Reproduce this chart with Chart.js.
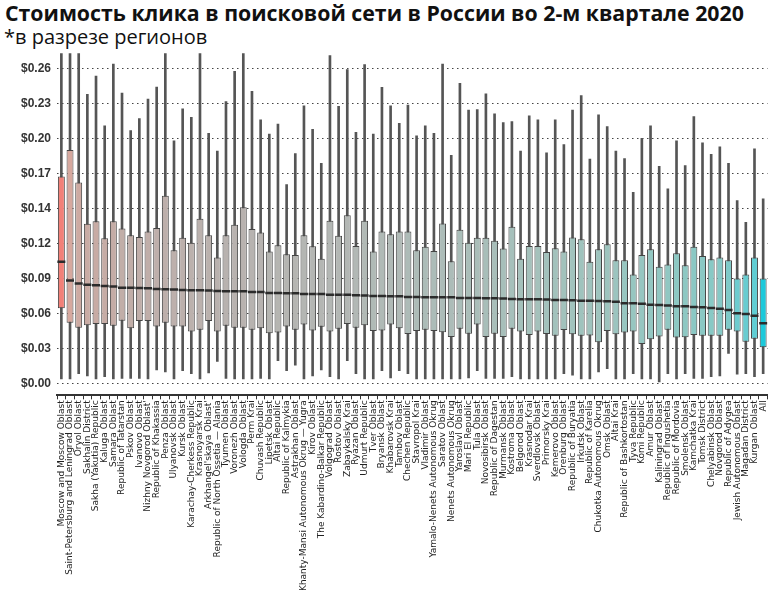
<!DOCTYPE html>
<html lang="ru">
  <head>
    <meta charset="UTF-8" />
    <title>Стоимость клика</title>
    <script src="https://cdn.jsdelivr.net/npm/chart.js"></script>
    <style>
      body {
        margin: 0;
        width: 775px;
        height: 600px;
        background: #fff;
        position: relative;
        overflow: hidden;
      }
      .title {
        position: absolute;
        left: 5px;
        top: -2px;
        font: 700 21.3px "Open Sans", sans-serif;
        color: #111;
        white-space: nowrap;
      }
      .subtitle {
        position: absolute;
        left: 4px;
        top: 23px;
        font: 400 20px "Open Sans", sans-serif;
        color: #111;
        white-space: nowrap;
      }
      #chart {
        position: absolute;
        left: 0;
        top: 40px;
      }
    </style>
  </head>
  <body>
    <div class="title">Стоимость клика в поисковой сети в России во 2-м квартале 2020</div>
    <div class="subtitle">*в разрезе регионов</div>
    <canvas id="chart" width="775" height="560"></canvas>
    <script>
      const categories = [
        "Moscow and Moscow Oblast", "Saint-Petersburg and Leningrad Oblast", "Oryol Oblast",
        "Sakhalin District", "Sakha (Yakutia) Republic", "Kaluga Oblast", "Samara Oblast",
        "Republic of Tatarstan", "Pskov Oblast", "Ivanovo Oblast", "Nizhny Novgorod Oblast'",
        "Republic of Khakassia", "Penza Oblast", "Ulyanovsk Oblast", "Kursk Oblast",
        "Karachay-Cherkess Republic", "Krasnoyarsk Krai", "Arkhangel'skaya Oblast'",
        "Republic of North Ossetia — Alania", "Tyumen Oblast", "Voronezh Oblast", "Vologda Oblast",
        "Perm Krai", "Chuvash Republic", "Lipetsk Oblast", "Altai Republic", "Republic of Kalmykia",
        "Astrakhan Oblast", "Khanty-Mansi Autonomous Okrug — Yugra", "Kirov Oblast",
        "The Kabardino-Balkar Republic", "Volgograd Oblast", "Rostov Oblast", "Zabaykalsky Krai",
        "Ryazan Oblast", "Udmurt Republic", "Tver Oblast", "Bryansk Oblast", "Khabarovsk Krai",
        "Tambov Oblast", "Chechen Republic", "Stavropol Krai", "Vladimir Oblast",
        "Yamalo-Nenets Autonomous Okrug", "Saratov Oblast", "Nenets Autonomous Okrug",
        "Yaroslavl Oblast", "Mari El Republic", "Tula Oblast", "Novosibirsk Oblast",
        "Republic of Dagestan", "Murmansk Oblast", "Kostroma Oblast", "Belgorod Oblast",
        "Krasnodar Krai", "Sverdlovsk Oblast", "Primorsky Krai", "Kemerovo Oblast",
        "Orenburg Oblast", "Republic of Buryatia", "Irkutsk Oblast", "Republic of Karelia",
        "Chukotka Autonomous Okrug", "Omsk Oblast", "Altai Krai", "Republic of Bashkortostan",
        "Tyva Republic", "Komi Republic", "Amur Oblast", "Kaliningrad Oblast",
        "Republic of Ingushetia", "Republic of Mordovia", "Smolensk Oblast", "Kamchatka Krai",
        "Tomsk District", "Chelyabinsk Oblast", "Novgorod Oblast", "Republic of Adygea",
        "Jewish Autonomous Oblast", "Magadan District", "Kurgan Oblast", "All"
      ];

      const q1 = [
        0.062, 0.05, 0.046, 0.048, 0.049, 0.049, 0.0475, 0.0517, 0.0455, 0.0514,
        0.0514, 0.047, 0.05, 0.047, 0.047, 0.0428, 0.0442, 0.0514, 0.0428, 0.0475,
        0.046, 0.046, 0.0442, 0.0455, 0.0414, 0.042, 0.047, 0.0442, 0.0486, 0.0436,
        0.0467, 0.0428, 0.045, 0.049, 0.046, 0.048, 0.0433, 0.0436, 0.0486, 0.0455,
        0.0408, 0.0433, 0.0442, 0.0433, 0.0422, 0.0383, 0.045, 0.041, 0.0486, 0.0383,
        0.041, 0.0383, 0.045, 0.0428, 0.04, 0.0428, 0.0408, 0.0392, 0.044, 0.0405,
        0.0392, 0.0394, 0.0339, 0.0433, 0.0405, 0.042, 0.0428, 0.0325, 0.0364, 0.0386,
        0.0442, 0.0378, 0.038, 0.04, 0.0392, 0.0392, 0.0392, 0.0442, 0.0428, 0.0344,
        0.0367, 0.0297
      ];
      const median = [
        0.1005, 0.085, 0.0825, 0.0815, 0.081, 0.0805, 0.08, 0.079, 0.079, 0.0788,
        0.0786, 0.078, 0.0778, 0.0775, 0.0772, 0.077, 0.077, 0.0767, 0.0764, 0.076,
        0.076, 0.076, 0.0755, 0.0755, 0.0747, 0.0747, 0.0744, 0.0744, 0.0739, 0.0739,
        0.0739, 0.0733, 0.0733, 0.0733, 0.0728, 0.0725, 0.0722, 0.0722, 0.0719, 0.0719,
        0.0714, 0.0714, 0.0711, 0.0711, 0.0711, 0.0711, 0.0706, 0.0706, 0.0706, 0.0703,
        0.0703, 0.07, 0.0697, 0.0694, 0.0694, 0.0694, 0.0692, 0.0689, 0.0689, 0.0686,
        0.0683, 0.0683, 0.068, 0.0678, 0.0675, 0.0661, 0.0661, 0.0658, 0.065, 0.0647,
        0.0644, 0.0636, 0.0636, 0.063, 0.0628, 0.0622, 0.0617, 0.0606, 0.0578, 0.0572,
        0.0558, 0.0497
      ];
      const q3 = [
        0.171, 0.193, 0.166, 0.132, 0.134, 0.12, 0.134, 0.128, 0.1225, 0.121,
        0.1255, 0.1285, 0.155, 0.11, 0.1203, 0.1163, 0.136, 0.1225, 0.104, 0.1225,
        0.131, 0.1455, 0.1275, 0.1247, 0.1089, 0.1142, 0.1067, 0.1061, 0.1225, 0.1133,
        0.103, 0.1344, 0.122, 0.139, 0.1136, 0.1344, 0.1089, 0.1255, 0.1233, 0.1255,
        0.1255, 0.11, 0.1128, 0.1094, 0.1322, 0.101, 0.127, 0.1163, 0.1203, 0.1203,
        0.1178, 0.1114, 0.1294, 0.103, 0.1136, 0.1136, 0.1086, 0.1117, 0.1089, 0.1206,
        0.1192, 0.1005, 0.1108, 0.115, 0.1017, 0.1017, 0.09, 0.1061, 0.1108, 0.0964,
        0.0983, 0.1075, 0.0975, 0.1128, 0.1053, 0.1025, 0.104, 0.1017, 0.0867, 0.09,
        0.104, 0.0867
      ];
      const whiskerLow = [
        0.0036, 0.0036, 0.008, 0.006, 0.0036, 0.0055, 0.0036, 0.004, 0.004, 0.004,
        0.0036, 0.011, 0.0094, 0.0036, 0.0105, 0.008, 0.0036, 0.0085, 0.018, 0.004,
        0.0036, 0.0036, 0.0036, 0.004, 0.0036, 0.0186, 0.0105, 0.015, 0.0036, 0.006,
        0.011, 0.0055, 0.0036, 0.0186, 0.008, 0.0036, 0.0036, 0.0105, 0.0044, 0.0105,
        0.008, 0.0036, 0.0036, 0.0036, 0.0036, 0.0036, 0.0036, 0.0044, 0.0105, 0.004,
        0.004, 0.004, 0.0055, 0.0036, 0.0036, 0.0036, 0.0036, 0.0036, 0.008, 0.0067,
        0.0036, 0.0036, 0.0094, 0.012, 0.0036, 0.0036, 0.008, 0.0036, 0.0036, 0.001,
        0.008, 0.0036, 0.008, 0.004, 0.004, 0.0055, 0.006, 0.0247, 0.0075, 0.008,
        0.0055, 0.008
      ];
      const whiskerHigh = [
        0.29, 0.29, 0.29, 0.239, 0.254, 0.213, 0.264, 0.24, 0.209, 0.219,
        0.235, 0.245, 0.29, 0.2005, 0.227, 0.22, 0.29, 0.2067, 0.192, 0.233,
        0.258, 0.29, 0.2414, 0.2178, 0.206, 0.2144, 0.1644, 0.19, 0.2294, 0.21,
        0.182, 0.271, 0.229, 0.2594, 0.2075, 0.2636, 0.206, 0.2447, 0.2294, 0.215,
        0.23, 0.2047, 0.213, 0.2067, 0.264, 0.1886, 0.248, 0.226, 0.2264, 0.2394,
        0.2228, 0.2156, 0.2164, 0.192, 0.2211, 0.2178, 0.1906, 0.2178, 0.1975, 0.226,
        0.238, 0.1855, 0.222, 0.2122, 0.192, 0.1858, 0.158, 0.2025, 0.213, 0.1794,
        0.1608, 0.2005, 0.18, 0.2206, 0.1989, 0.1894, 0.1956, 0.182, 0.151, 0.133,
        0.194, 0.1525
      ];

      const yTickStep = 0.26 / 9;
      const yTickLabels = ["$0.00", "$0.03", "$0.06", "$0.09", "$0.12", "$0.14", "$0.17", "$0.20", "$0.23", "$0.26"];

      // box colour follows the median: cyan for cheap, salmon for expensive
      const colorStops = [
        [0.0497, [28, 201, 218]],
        [0.056, [98, 205, 211]],
        [0.062, [135, 201, 197]],
        [0.068, [158, 196, 190]],
        [0.072, [176, 186, 182]],
        [0.076, [184, 178, 175]],
        [0.08, [196, 172, 166]],
        [0.085, [214, 168, 158]],
        [0.1005, [242, 128, 120]]
      ];
      function colorFor(m) {
        for (let i = 1; i < colorStops.length; i++) {
          const [v0, c0] = colorStops[i - 1];
          const [v1, c1] = colorStops[i];
          if (m <= v1 || i === colorStops.length - 1) {
            const t = Math.max(0, Math.min(1, (m - v0) / (v1 - v0)));
            const c = c0.map((x, k) => Math.round(x + (c1[k] - x) * t));
            return "rgb(" + c.join(",") + ")";
          }
        }
      }

      const boxColors = median.map(colorFor);

      new Chart(document.getElementById("chart"), {
        type: "bar",
        data: {
          labels: categories,
          datasets: [
            {
              type: "line",
              data: median,
              showLine: false,
              pointStyle: "line",
              pointRadius: 4,
              pointHoverRadius: 4,
              pointBorderColor: "#2b2b2b",
              pointBorderWidth: 2.5,
              order: 0,
            },
            {
              data: categories.map((c, i) => [q1[i], q3[i]]),
              backgroundColor: boxColors,
              borderColor: "#444",
              borderWidth: 1,
              borderSkipped: false,
              barPercentage: 0.8,
              categoryPercentage: 1,
              grouped: false,
              clip: 0,
              order: 1,
            },
            {
              data: categories.map((c, i) => [whiskerLow[i], whiskerHigh[i]]),
              backgroundColor: "#555",
              barThickness: 2,
              grouped: false,
              clip: 0,
              order: 2,
            },
          ],
        },
        options: {
          responsive: false,
          animation: false,
          layout: { padding: { left: 15, right: 5, top: 3, bottom: 8 } },
          plugins: { legend: { display: false }, tooltip: { enabled: false } },
          scales: {
            x: {
              offset: true,
              border: { display: true, color: "#333", width: 2 },
              grid: { display: true, drawOnChartArea: false, tickLength: 4, color: "#333" },
              ticks: {
                autoSkip: false,
                minRotation: 90,
                maxRotation: 90,
                padding: 1,
                color: "#222",
                font: { family: "DejaVu Sans", size: 9 },
              },
            },
            y: {
              min: -0.01,
              max: 0.273,
              border: { display: false, dash: [1.5, 3.5] },
              grid: { color: "#444", drawTicks: false },
              afterBuildTicks: (scale) => {
                scale.ticks = yTickLabels.map((l, i) => ({ value: i * yTickStep }));
              },
              ticks: {
                padding: 6,
                color: "#333",
                font: { family: "Liberation Sans", size: 12, weight: "bold" },
                callback: (v, i) => yTickLabels[i],
              },
            },
          },
        },
      });
    </script>
  </body>
</html>
